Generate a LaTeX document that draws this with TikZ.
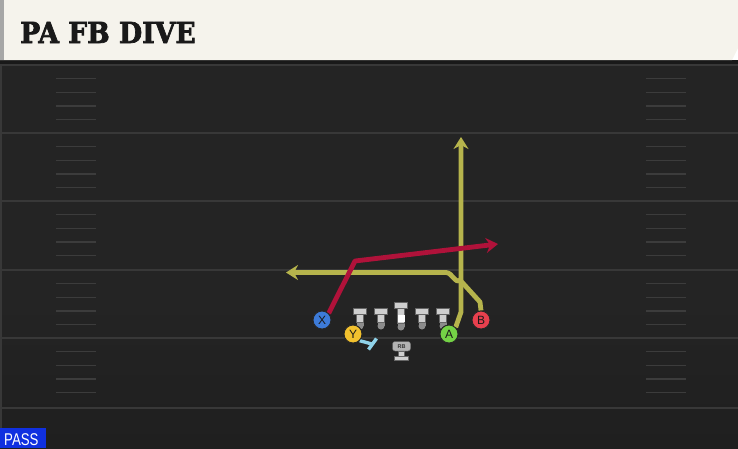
\documentclass[tikz,border=0pt]{standalone}
\usepackage{fontspec}
\setmainfont{Liberation Sans}
\newfontfamily\titlefont{DejaVu Serif}[BoldFeatures={FakeBold=2.5}]
\usetikzlibrary{arrows.meta}
\definecolor{fieldbg}{HTML}{242424}
\definecolor{fieldlow}{HTML}{1F1F1F}
\definecolor{cream}{HTML}{F5F3EC}
\definecolor{yardline}{HTML}{383838}
\definecolor{hashc}{HTML}{3C3C3C}
\definecolor{redroute}{HTML}{B0123A}
\definecolor{yelroute}{HTML}{B6B44C}
\definecolor{xblue}{HTML}{3D7BD9}
\definecolor{yyel}{HTML}{F2C12E}
\definecolor{agreen}{HTML}{74D246}
\definecolor{bred}{HTML}{E8404E}
\definecolor{blockc}{HTML}{8FD3EA}
\definecolor{linec}{HTML}{CFCFCF}
\definecolor{passblue}{HTML}{1030E0}
\tikzset{
  player/.style={circle, draw=black!85, line width=0.9pt, minimum size=18pt, inner sep=0pt, font=\fontsize{12}{12}\selectfont, text=black!90},
  route/.style={line width=4.8pt, line join=round},
  routearrow/.style={-{Stealth[length=12pt,width=15pt,inset=4pt]}},
  yard/.style={draw=yardline, line width=1.6pt},
  hashmark/.style={draw=hashc, line width=1.4pt},
  lineman/.style={fill=linec, draw=black!60, line width=0.4pt},
}
\begin{document}
\begin{tikzpicture}[x=1pt,y=-1pt]
\useasboundingbox (0,0) rectangle (738,448);
% field
\fill[fieldbg] (0,60) rectangle (738,448);
\shade[top color=fieldbg, bottom color=fieldlow] (0,300) rectangle (738,448);
\fill[black!90] (0,60) rectangle (738,64);
\fill[yardline] (0,64) rectangle (2,448);
% yard lines
\foreach \y in {65,133,201,270,338,408} {\draw[yard] (0,\y) -- (738,\y);}
% hash marks
\foreach \b in {65,133,201,270,338} {
  \foreach \k in {1,2,3,4} {
    \draw[hashmark] (56,\b+\k*13.6) -- (96,\b+\k*13.6);
    \draw[hashmark] (646,\b+\k*13.6) -- (686,\b+\k*13.6);
  }
}
% header
\fill[cream] (0,0) -- (738,0) -- (738,48) -- (732,60) -- (0,60) -- cycle;
\fill[black!35] (0,0) rectangle (4,60);
\node[anchor=base west, inner sep=0pt, xscale=0.92, text=black!90, font=\titlefont\bfseries\fontsize{29}{29}\selectfont] (title) at (20,43) {PA FB DIVE};
% linemen
\foreach \x/\n in {360/lt,381/lg,422/rg,443/rt} {
  \fill[black!45] (\x-3.5,322) rectangle (\x+3.5,326);
  \fill[black!45] (\x,326) circle (3.5);
  \path[lineman] (\x-6.5,308.5) rectangle (\x+6.5,314);
  \path[lineman] (\x-3.5,314) rectangle (\x+3.5,322);
  \coordinate (\n) at (\x,318);
}
\fill[black!45] (397.5,323) rectangle (404.5,327);
\fill[black!45] (401,327) circle (3.5);
\path[lineman] (394.5,302.5) rectangle (407.5,308);
\path[lineman] (397.5,308) rectangle (404.5,323);
\fill[white] (397.5,315) rectangle (404.5,322);
\coordinate (c) at (401,315);
% RB
\path[fill=black!30, draw=black!60, line width=0.4pt, rounded corners=2.5pt] (392.5,341.5) rectangle (410.5,351);
\node[font=\fontsize{5.5}{5.5}\selectfont\bfseries, text=black!80, inner sep=0pt] (rb) at (401.5,346.3) {RB};
\path[lineman] (398.5,351) rectangle (404.5,356);
\path[lineman] (394.5,356) rectangle (408.5,360);
% route points
\coordinate (x1) at (355,261);
\coordinate (x2) at (498,244);
\coordinate (a1) at (461,312);
\coordinate (a2) at (461,137);
\coordinate (b1) at (480,302);
\coordinate (b2) at (460,280);
\coordinate (b3) at (446,272.5);
\coordinate (b4) at (286,272.5);
\coordinate (blk) at (372,344);
\coordinate (blk1) at (368.5,349.5);
\coordinate (blk2) at (376.5,338.5);
% players
\node[player, fill=xblue] (X) at (322,320) {X};
\node[player, fill=yyel] (Y) at (353,334) {Y};
\node[player, fill=agreen] (A) at (449,334) {A};
\node[player, fill=bred] (B) at (481,320) {B};
% routes
\draw[route, yelroute, routearrow] (B.north) -- (b1) -- (b2) to[out=225,in=0] (b3) -- (b4);
\draw[route, yelroute, routearrow] (A.north east) -- (a1) -- (a2);
\draw[route, redroute, routearrow] (X.north east) -- (x1) -- (x2);
\draw[blockc, line width=3.4pt] (Y.south east) -- (blk);
\draw[blockc, line width=3.4pt] (blk1) -- (blk2);
% redraw players on top
\node[player, fill=xblue] at (X) {X};
\node[player, fill=yyel] at (Y) {Y};
\node[player, fill=agreen] at (A) {A};
\node[player, fill=bred] at (B) {B};
% PASS
\fill[passblue] (0,428) rectangle (46,448);
\node[anchor=base west, inner sep=0pt, text=white, xscale=0.78, font=\fontsize{17}{17}\selectfont] (pass) at (4,445) {PASS};
\end{tikzpicture}
\end{document}
